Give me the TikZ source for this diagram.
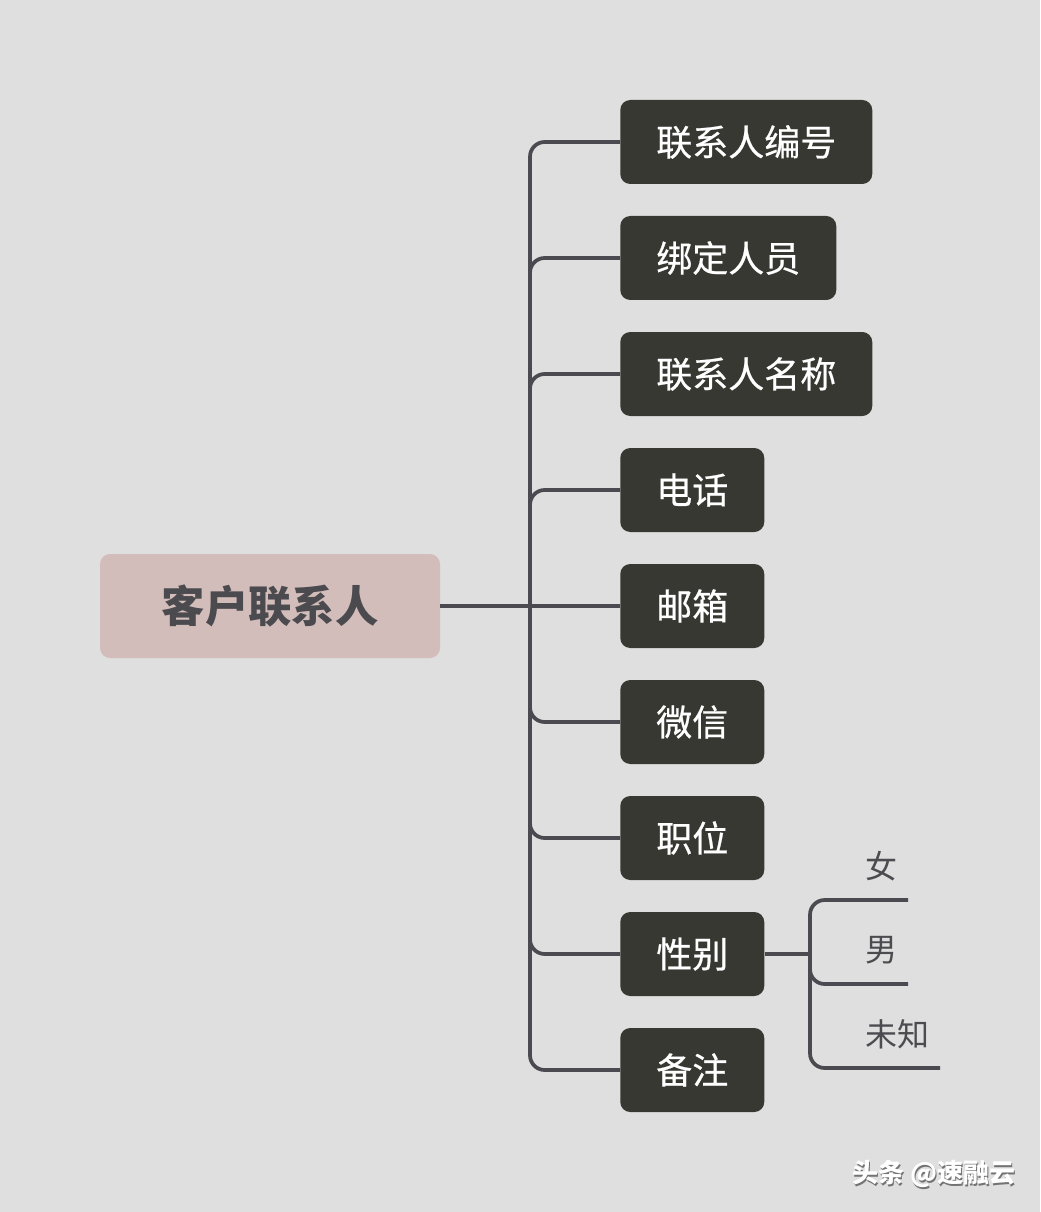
\documentclass[tikz,border=0pt]{standalone}
\usepackage{fontspec}
\newfontfamily\cjk{Noto Sans CJK SC}
\newfontfamily\cjkm[FakeBold=0.6]{Noto Sans CJK SC}
\definecolor{bgc}{HTML}{DFDFDF}
\definecolor{rootfill}{HTML}{D3BDBA}
\definecolor{roottext}{HTML}{4B4A4F}
\definecolor{boxfill}{HTML}{383833}
\definecolor{linec}{HTML}{4A4A50}
\definecolor{leaftext}{HTML}{4B4B50}
\begin{document}
\begin{tikzpicture}[x=0.75pt,y=-0.75pt,
  rootbox/.style={fill=rootfill,rounded corners=7.5pt,minimum width=255pt,minimum height=78pt,inner sep=0pt,
    font=\cjk\bfseries\fontsize{32.5pt}{36pt}\selectfont,text=roottext},
  childbox/.style={fill=boxfill,rounded corners=7.5pt,minimum height=63pt,inner xsep=27pt,inner ysep=0pt,
    anchor=west,font=\cjkm\fontsize{27pt}{30pt}\selectfont,text=white},
  leaf/.style={font=\cjk\fontsize{24pt}{28pt}\selectfont,text=leaftext,inner sep=0pt,anchor=west},
  conn/.style={draw=linec,line width=2.8pt,rounded corners=11pt},
  conns/.style={draw=linec,line width=2.8pt}]
\fill[bgc] (0,0) rectangle (1040,1212);
\useasboundingbox (0,0) rectangle (1040,1212);

\node[rootbox] (root) at (270,606) {客户联系人};

\node[childbox] (c1) at (620,142) {联系人编号};
\node[childbox] (c2) at (620,258) {绑定人员};
\node[childbox] (c3) at (620,374) {联系人名称};
\node[childbox] (c4) at (620,490) {电话};
\node[childbox] (c5) at (620,606) {邮箱};
\node[childbox] (c6) at (620,722) {微信};
\node[childbox] (c7) at (620,838) {职位};
\node[childbox] (c8) at (620,954) {性别};
\node[childbox] (c9) at (620,1070) {备注};

\coordinate (trunk) at (530,606);
\draw[conns] (root.east) -- (c5.west);
\foreach \c in {c1,c2,c3,c4,c6,c7,c8,c9}{
  \draw[conn] (trunk) |- (\c.west);
}

% sub-branch of 性别
\coordinate (sub) at (810,954);
\coordinate (e1) at (908,900);
\coordinate (e2) at (908,984);
\coordinate (e3) at (940,1068);
\draw[conns] (c8.east) -- (sub);
\draw[conn] (sub) |- (e1);
\draw[conn] (sub) |- (e2);
\draw[conn] (sub) |- (e3);

\node[leaf] (l1) at (865,866) {女};
\node[leaf] (l2) at (865,950) {男};
\node[leaf] (l3) at (865,1034) {未知};

% watermark
\node[font=\cjk\bfseries\fontsize{19.5pt}{22pt}\selectfont,text=black!55,inner sep=0pt,anchor=west] at (853.5,1175.5) {头条 @速融云};
\node[font=\cjk\bfseries\fontsize{19.5pt}{22pt}\selectfont,text=white,inner sep=0pt,anchor=west] (wm) at (852,1174) {头条 @速融云};
\end{tikzpicture}
\end{document}
